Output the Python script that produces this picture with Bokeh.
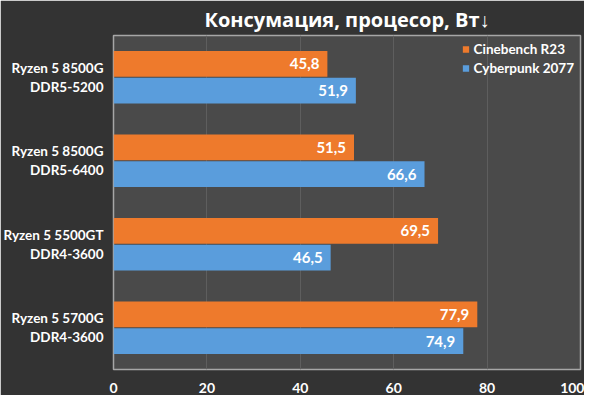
from bokeh.plotting import figure
from bokeh.models import ColumnDataSource, FactorRange, Legend, LegendItem, FixedTicker
from bokeh.transform import dodge
from bokeh.core.properties import value
from bokeh.embed import file_html
from bokeh.resources import INLINE

categories = ["Ryzen 5 8500G\nDDR5-5200", "Ryzen 5 8500G\nDDR5-6400",
              "Ryzen 5 5500GT\nDDR4-3600", "Ryzen 5 5700G\nDDR4-3600"]
cinebench = [45.8, 51.5, 69.5, 77.9]
cyberpunk = [51.9, 66.6, 46.5, 74.9]
series_names = ["Cinebench R23", "Cyberpunk 2077"]
x_ticks = [0, 20, 40, 60, 80, 100]

FONT = "Lato"
ORANGE = "#EE7A2C"
BLUE = "#5A9DDC"

src = ColumnDataSource(dict(
    cat=categories,
    cb=cinebench,
    cp=cyberpunk,
    cb_lbl=[f"{v:.1f}".replace(".", ",") for v in cinebench],
    cp_lbl=[f"{v:.1f}".replace(".", ",") for v in cyberpunk],
))

p = figure(width=584, height=395, output_backend="svg", toolbar_location=None,
           y_range=FactorRange(factors=categories[::-1], range_padding=0),
           x_range=(0, 100),
           min_border_left=100, min_border_right=4, min_border_top=4, min_border_bottom=0,
           title="Консумация, процесор, Вт↓")

p.title.text_font = "Open Sans"
p.title.text_font_size = "20px"
p.title.text_font_style = "bold"
p.title.text_color = "white"
p.title.align = "center"
p.title.standoff = 6
p.title.offset = 0

p.background_fill_color = "#4a4a4a"
p.border_fill_color = "#333333"
p.outline_line_color = "#a6a6a6"
p.outline_line_width = 1.5

r1 = p.hbar(y=dodge("cat", 0.16, range=p.y_range), right="cb", left=0, height=0.31,
            source=src, fill_color=ORANGE, line_color=None)
r2 = p.hbar(y=dodge("cat", -0.16, range=p.y_range), right="cp", left=0, height=0.31,
            source=src, fill_color=BLUE, line_color=None)

p.text(x="cb", y=dodge("cat", 0.16, range=p.y_range), text="cb_lbl", source=src,
       text_align="right", text_baseline="middle", x_offset=-8,
       text_color="white", text_font=value(FONT), text_font_style="bold",
       text_font_size="15px")
p.text(x="cp", y=dodge("cat", -0.16, range=p.y_range), text="cp_lbl", source=src,
       text_align="right", text_baseline="middle", x_offset=-8,
       text_color="white", text_font=value(FONT), text_font_style="bold",
       text_font_size="15px")

p.xaxis.ticker = FixedTicker(ticks=x_ticks)
p.xaxis.axis_line_color = None
p.xaxis.major_tick_line_color = None
p.xaxis.minor_tick_line_color = None
p.xaxis.major_label_text_color = "white"
p.xaxis.major_label_text_font = FONT
p.xaxis.major_label_text_font_style = "bold"
p.xaxis.major_label_text_font_size = "14px"
p.xaxis.major_label_standoff = 7

p.yaxis.axis_line_color = None
p.yaxis.major_tick_line_color = None
p.yaxis.minor_tick_line_color = None
p.yaxis.major_label_text_color = "white"
p.yaxis.major_label_text_font = FONT
p.yaxis.major_label_text_font_style = "bold"
p.yaxis.major_label_text_font_size = "13.5px"
p.yaxis.major_label_text_align = "center"
p.yaxis.major_label_standoff = 4

p.xgrid.grid_line_color = "#5e5e5e"
p.xgrid.grid_line_width = 1
p.ygrid.grid_line_color = None

legend = Legend(items=[LegendItem(label=series_names[0], renderers=[r1]),
                       LegendItem(label=series_names[1], renderers=[r2])],
                location="top_right", background_fill_alpha=0, border_line_color=None,
                label_text_color="white", label_text_font=FONT,
                label_text_font_style="bold", label_text_font_size="13.5px",
                glyph_width=8, glyph_height=8, spacing=3, padding=5,
                label_standoff=4, margin=6)
p.add_layout(legend)

open("out.html", "w").write(file_html(p, INLINE))
